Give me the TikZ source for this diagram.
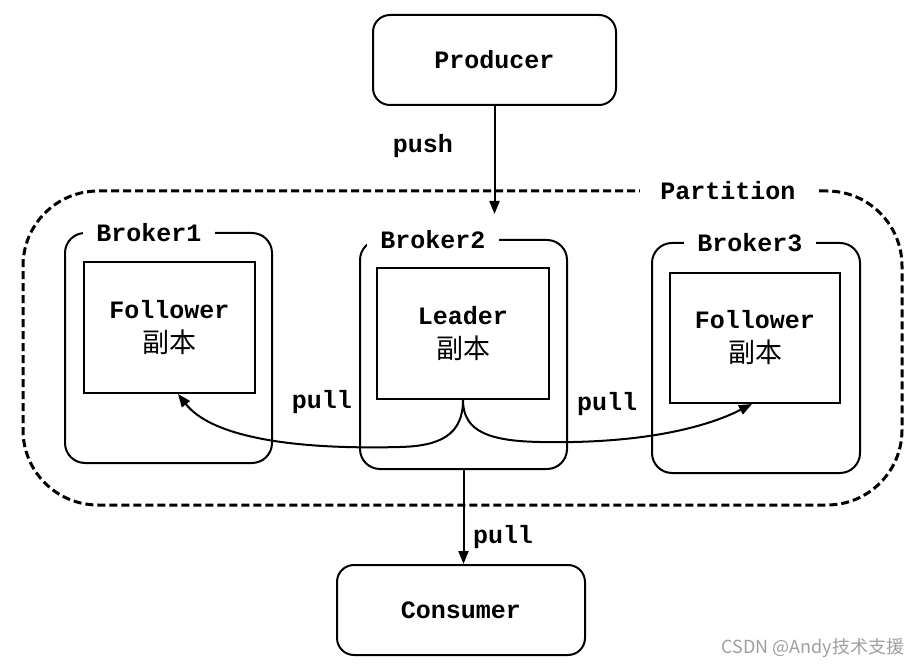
\documentclass[tikz,border=0pt]{standalone}
\usepackage{fontspec}
\setmonofont{Liberation Mono}
\newfontfamily\cjk{Noto Sans CJK SC}
\usetikzlibrary{arrows.meta}
\begin{document}
\begin{tikzpicture}[x=1pt,y=-1pt,
  lbl/.style={font=\ttfamily\bfseries\fontsize{25}{30}\selectfont, inner sep=2pt},
  termbox/.style={draw, line width=2pt, rounded corners=17pt, lbl},
  brokerbox/.style={draw, line width=2pt, rounded corners=20pt},
  replbox/.style={draw, line width=2pt, align=center, font=\ttfamily\bfseries\fontsize{25}{34}\selectfont},
  partbox/.style={draw, line width=3pt, dash pattern=on 8pt off 4pt, rounded corners=75pt},
  tag/.style={lbl, fill=white, inner xsep=13pt},
  arr/.style={line width=2pt, -{Triangle[length=13pt,width=10pt]}}
]
\useasboundingbox (0,0) rectangle (924,668);
\fill[white] (0,0) rectangle (924,668);

% partition
\node[partbox, minimum width=879pt, minimum height=314pt] (part) at (462.5,348) {};
\node[tag, inner xsep=20pt] (parttag) at (728,191) {Partition};

% producer / consumer
\node[termbox, minimum width=243pt, minimum height=90pt] (prod) at (494.5,60) {Producer};
\node[termbox, minimum width=248pt, minimum height=90pt] (cons) at (461,610) {Consumer};

% brokers
\node[brokerbox, minimum width=207pt, minimum height=230pt] (b1) at (168.5,348) {};
\node[brokerbox, minimum width=207pt, minimum height=229pt] (b2) at (463.5,354.5) {};
\node[brokerbox, minimum width=208pt, minimum height=230pt] (b3) at (756,358) {};
\node[tag] (b1tag) at (149,233) {Broker1};
\node[tag] (b2tag) at (433,240) {Broker2};
\node[tag] (b3tag) at (750,243) {Broker3};

% replicas
\node[replbox, minimum width=171pt, minimum height=131pt] (r1) at (169.5,327.5) {Follower\\{\cjk\mdseries\fontsize{27}{34}\selectfont 副本}};
\node[replbox, minimum width=172pt, minimum height=131pt] (r2) at (463,333.5) {Leader\\{\cjk\mdseries\fontsize{27}{34}\selectfont 副本}};
\node[replbox, minimum width=170pt, minimum height=130pt] (r3) at (755,338) {Follower\\{\cjk\mdseries\fontsize{27}{34}\selectfont 副本}};

% connectors
\coordinate (pushend) at (494.5,214);
\coordinate (t1) at (178,394);
\coordinate (t3) at (752,404);
\draw[arr] (prod.south) -- (pushend);
\draw[arr] (b2.south) -- (b2.south |- cons.north);
\draw[arr] (r2.south) .. controls (463,435) and (440,446) .. (400,447)
   .. controls (285,450) and (210,435) .. (t1);
\draw[arr] (r2.south) .. controls (463,432) and (490,441) .. (540,442)
   .. controls (640,444) and (705,428) .. (t3);

% edge labels
\node[lbl] (lpush) at (423,146) {push};
\node[lbl] (lpull1) at (322,402) {pull};
\node[lbl] (lpull3) at (607,404) {pull};
\node[lbl] (lpull2) at (503,537) {pull};

% watermark
\node[font=\cjk\fontsize{18}{20}\selectfont, text=gray!75, inner sep=0pt] (wm) at (813,648) {CSDN @Andy技术支援};
\end{tikzpicture}
\end{document}
